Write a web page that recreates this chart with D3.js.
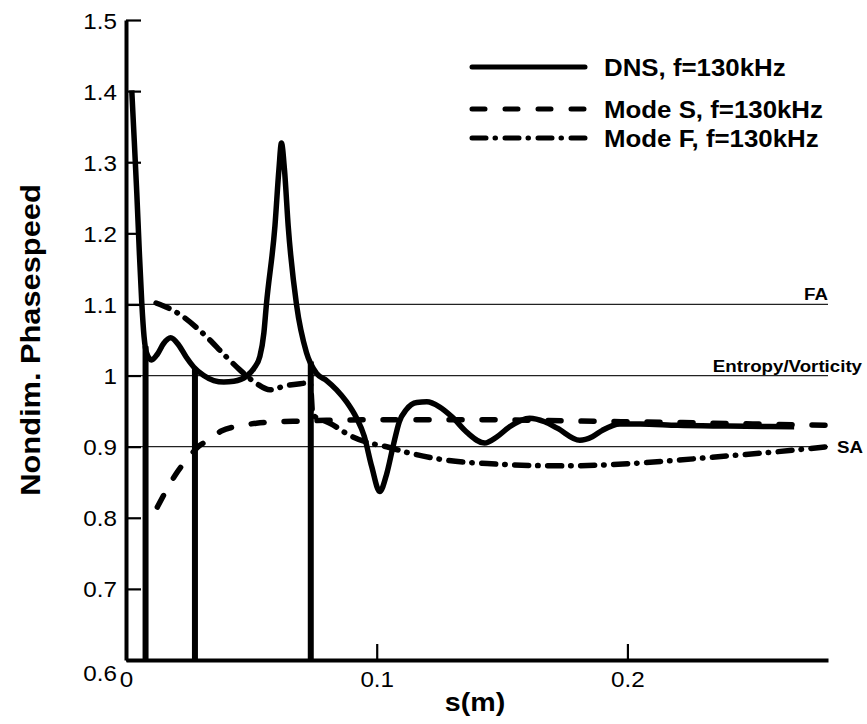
<!DOCTYPE html>
<html>
<head>
<meta charset="utf-8">
<script src="https://cdn.jsdelivr.net/npm/d3@7"></script>
<style>
  body { margin: 0; background: #fff; }
  text { font-family: "Liberation Sans", Arial, Helvetica, sans-serif; fill: #000; }
</style>
</head>
<body>
<div id="chart"></div>
<script>

// DNS phase speed [s (m), c]
var dns = [
  [0.0023, 1.401], [0.0033, 1.33], [0.0043, 1.257], [0.0053, 1.175], [0.0063, 1.102],
  [0.0072, 1.055], [0.0082, 1.032], [0.0102, 1.022], [0.0125, 1.030], [0.0150, 1.045],
  [0.0178, 1.053], [0.0210, 1.043], [0.0240, 1.026], [0.0270, 1.012], [0.0310, 1.000],
  [0.0350, 0.993], [0.0390, 0.991], [0.0430, 0.992], [0.0480, 0.999], [0.0510, 1.010],
  [0.0534, 1.027], [0.0550, 1.060], [0.0560, 1.100], [0.0594, 1.210], [0.0610, 1.290],
  [0.0620, 1.327], [0.0632, 1.290], [0.0647, 1.210], [0.0680, 1.100], [0.0720, 1.032],
  [0.0760, 1.003], [0.0800, 0.993], [0.0840, 0.980], [0.0880, 0.963], [0.0920, 0.940],
  [0.0950, 0.915], [0.0980, 0.872], [0.1012, 0.837], [0.1040, 0.862], [0.1065, 0.900],
  [0.1090, 0.935], [0.1118, 0.952], [0.1160, 0.962], [0.1200, 0.963], [0.1250, 0.956],
  [0.1300, 0.942], [0.1360, 0.920], [0.1430, 0.905], [0.1480, 0.914], [0.1530, 0.928],
  [0.1610, 0.940], [0.1670, 0.935], [0.1720, 0.926], [0.1810, 0.909], [0.1860, 0.914],
  [0.1900, 0.923], [0.1970, 0.932], [0.2050, 0.932], [0.2200, 0.930], [0.2400, 0.929],
  [0.2665, 0.928]
];

// s positions where the DNS phase wraps (drawn as drops to the bottom axis)
var dnsJumps = [0.0078, 0.0275, 0.0737];

var modeS = [
  [0.0125, 0.815], [0.0160, 0.838], [0.0200, 0.862], [0.0250, 0.885], [0.0288, 0.900],
  [0.0328, 0.909], [0.0380, 0.922], [0.0450, 0.929], [0.0520, 0.933], [0.0600, 0.935],
  [0.0700, 0.936], [0.0800, 0.937], [0.1000, 0.938], [0.1400, 0.938], [0.1800, 0.936],
  [0.2200, 0.934], [0.2500, 0.932], [0.2800, 0.930]
];

var modeF = [
  [0.0120, 1.102], [0.0208, 1.0875], [0.0308, 1.059], [0.0401, 1.026], [0.0454, 1.008],
  [0.0520, 0.989], [0.0574, 0.980], [0.0640, 0.986], [0.0706, 0.989], [0.0735, 0.990],
  [0.0745, 0.945], [0.0780, 0.938], [0.0813, 0.933], [0.0892, 0.916], [0.0972, 0.905],
  [0.1025, 0.901], [0.1131, 0.891], [0.1278, 0.881], [0.1477, 0.8756], [0.1742, 0.873],
  [0.2000, 0.876], [0.2200, 0.881], [0.2400, 0.887], [0.2600, 0.893], [0.2800, 0.900]
];

// reference phase speeds
var refValues = [1.1, 1.0, 0.9];
var refLabels = ["FA", "Entropy/Vorticity", "SA"];

var legendLabels = ["DNS, f=130kHz", "Mode S, f=130kHz", "Mode F, f=130kHz"];

var xMajor = [0, 0.1, 0.2];
var yMajor = [0.6, 0.7, 0.8, 0.9, 1.0, 1.1, 1.2, 1.3, 1.4, 1.5];


var width = 867, height = 724;
var sx = 1.1; // the original lettering is a bit wider than Arial

var svg = d3.select("#chart").append("svg")
    .attr("width", width)
    .attr("height", height);

var xScale = d3.scaleLinear().domain([0, 0.28]).range([126, 828]);
var yScale = d3.scaleLinear().domain([0.6, 1.5]).range([660, 20]);

function label(g, x, y, txt, size, weight, anchor) {
    return g.append("text")
        .attr("transform", "translate(" + x + "," + y + ") scale(" + sx + ",1)")
        .attr("text-anchor", anchor || "start")
        .style("font-size", size + "px")
        .style("font-weight", weight || "normal")
        .text(txt);
}

var fmt = function(d) { return String(+d.toFixed(1)); };

// reference lines
refValues.forEach(function(v, i) {
    svg.append("line")
        .attr("x1", xScale(0)).attr("x2", xScale(0.28))
        .attr("y1", yScale(v)).attr("y2", yScale(v))
        .style("stroke", "#222").style("stroke-width", 1.2);
});
label(svg, xScale(0.28), yScale(refValues[0]) - 4, refLabels[0], 17, "bold", "end");
label(svg, 862, yScale(refValues[1]) - 4, refLabels[1], 17, "bold", "end");
label(svg, 837, yScale(refValues[2]) + 6, refLabels[2], 17, "bold", "start");

var line = d3.line()
    .x(function(d) { return xScale(d[0]); })
    .y(function(d) { return yScale(d[1]); })
    .curve(d3.curveMonotoneX);

svg.append("path").datum(modeF)
    .attr("d", line)
    .style("fill", "none").style("stroke", "#000").style("stroke-width", 5.5)
    .style("stroke-linecap", "round")
    .style("stroke-dasharray", "14 9 0.5 9.5");

svg.append("path").datum(modeS)
    .attr("d", line)
    .style("fill", "none").style("stroke", "#000").style("stroke-width", 5.5)
    .style("stroke-linecap", "round")
    .style("stroke-dasharray", "13 20");

svg.append("path").datum(dns)
    .attr("d", line)
    .style("fill", "none").style("stroke", "#000").style("stroke-width", 5.5)
    .style("stroke-linejoin", "round");

// value of the dns curve at s (linear between read points)
function dnsAt(s) {
    var i = d3.bisector(function(d) { return d[0]; }).left(dns, s);
    var a = dns[i - 1], b = dns[i];
    return a[1] + (b[1] - a[1]) * (s - a[0]) / (b[0] - a[0]);
}

svg.selectAll(".jump").data(dnsJumps).enter().append("line")
    .attr("class", "jump")
    .attr("x1", function(d) { return xScale(d); })
    .attr("x2", function(d) { return xScale(d); })
    .attr("y1", function(d) { return yScale(dnsAt(d)); })
    .attr("y2", yScale(0.6))
    .style("stroke", "#000").style("stroke-width", 6);

// axes, ticks pointing inward
var xMinor = d3.range(0.02, 0.2801, 0.02).filter(function(d) { return Math.abs(d - 0.1) > 1e-6 && Math.abs(d - 0.2) > 1e-6; });
var yMinor = d3.range(0.62, 1.5, 0.02).filter(function(d) { return Math.abs(d * 10 - Math.round(d * 10)) > 1e-6; });

var gx = svg.append("g").attr("transform", "translate(0," + yScale(0.6) + ")");
gx.call(d3.axisBottom(xScale).tickValues(xMinor).tickSizeInner(-9).tickSizeOuter(0).tickFormat(""));
gx.call(d3.axisBottom(xScale).tickValues(xMajor).tickSizeInner(-16).tickSizeOuter(0).tickFormat(fmt).tickPadding(0));

var gy = svg.append("g").attr("transform", "translate(" + xScale(0) + ",0)");
gy.call(d3.axisLeft(yScale).tickValues(yMinor).tickSizeInner(-8).tickSizeOuter(0).tickFormat(""));
gy.call(d3.axisLeft(yScale).tickValues(yMajor).tickSizeInner(-15).tickSizeOuter(0).tickFormat(fmt).tickPadding(0));

svg.selectAll(".domain").style("stroke", "#000").style("stroke-width", 4);
svg.selectAll(".tick line").style("stroke", "#000").style("stroke-width", 2.2);

gx.selectAll(".tick text")
    .attr("y", 0).attr("dy", 0)
    .attr("transform", "translate(0,27) scale(" + sx + ",1)")
    .style("font-size", "22px").style("font-family", null);
gy.selectAll(".tick text")
    .attr("x", 0).attr("dy", 0)
    .attr("transform", function(d) { return "translate(-9," + (d === 0.6 ? 20 : 8) + ") scale(" + sx + ",1)"; })
    .style("font-size", "22px").style("font-family", null);

// axis titles
label(svg, 475, 711, "s(m)", 26, "bold", "middle");
svg.append("text")
    .attr("transform", "translate(40," + (yScale(0.6) + yScale(1.5)) / 2 + ") rotate(-90) scale(" + sx + ",1)")
    .attr("text-anchor", "middle")
    .style("font-size", "28px").style("font-weight", "bold")
    .text("Nondim. Phasespeed");

// legend
var legendDash = [null, "13 20", "14 9 0.5 9.5"];
var legendY = [67, 109, 138];
legendLabels.forEach(function(t, i) {
    svg.append("line")
        .attr("x1", 472).attr("x2", 585)
        .attr("y1", legendY[i]).attr("y2", legendY[i])
        .style("stroke", "#000").style("stroke-width", 5)
        .style("stroke-linecap", "round")
        .style("stroke-dasharray", legendDash[i]);
    label(svg, 604, legendY[i] + 8.5, t, 23.5, "bold", "start");
});

</script>
</body>
</html>
